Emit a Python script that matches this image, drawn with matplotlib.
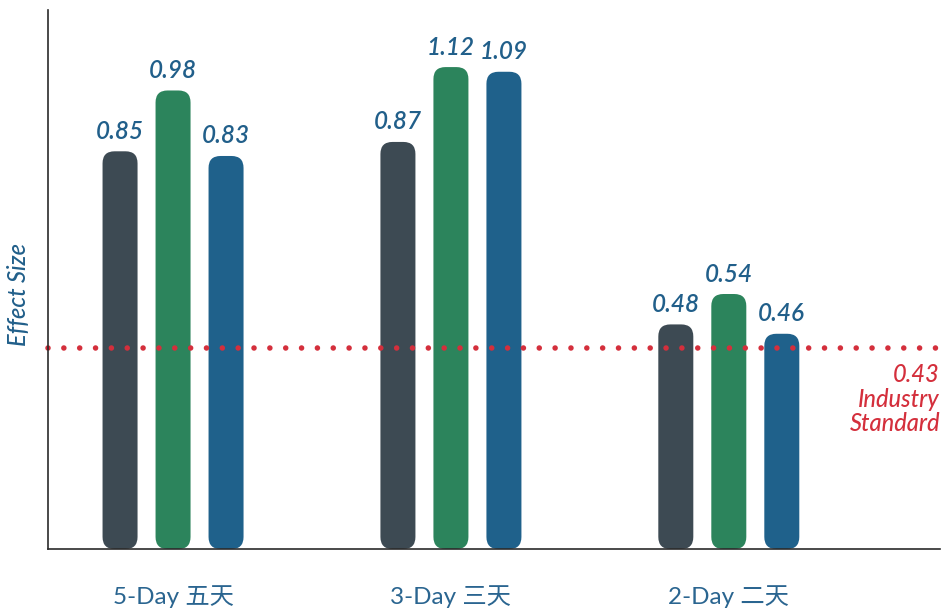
import matplotlib.pyplot as plt
from matplotlib.patches import FancyBboxPatch
from matplotlib import transforms

# data
groups = ["5-Day 五天", "3-Day 三天", "2-Day 二天"]
series_colors = ["#3d4a53", "#2c845c", "#1f618b"]
effect_labels = [[0.85, 0.98, 0.83], [0.87, 1.12, 1.09], [0.48, 0.54, 0.46]]
# heights as drawn in the picture (the tallest two are drawn a bit short)
bar_heights = [[0.85, 0.98, 0.84], [0.87, 1.03, 1.02], [0.48, 0.545, 0.46]]
industry_standard = 0.43

label_blue = "#215f8a"
red = "#d42f3c"
font_list = ["Lato", "Noto Sans CJK SC", "DejaVu Sans"]
plt.rcParams["font.family"] = font_list
plt.rcParams["lines.scale_dashes"] = False

W, H = 943, 609
fig = plt.figure(figsize=(W / 100, H / 100), dpi=100)
ax_l, ax_r, ax_t, ax_b = 48, 940, 10, 549
ax = fig.add_axes([ax_l / W, (H - ax_b) / H, (ax_r - ax_l) / W, (ax_b - ax_t) / H])

xmin, xmax = -0.45, 2.76
ymax = 1.152
ax.set_xlim(xmin, xmax)
ax.set_ylim(0, ymax)

x_per_px = (xmax - xmin) / (ax_r - ax_l)
y_per_px = ymax / (ax_b - ax_t)
offset = 53 * x_per_px
bar_w = 35 * x_per_px
radius = 12 * x_per_px

for gi, (heights, labels) in enumerate(zip(bar_heights, effect_labels)):
    for si, (h, lab) in enumerate(zip(heights, labels)):
        xc = gi + (si - 1) * offset
        patch = FancyBboxPatch(
            (xc - bar_w / 2, 0), bar_w, h,
            boxstyle=f"round,pad=0,rounding_size={radius}",
            mutation_aspect=y_per_px / x_per_px,
            facecolor=series_colors[si], edgecolor="none", zorder=2,
        )
        ax.add_patch(patch)
        ax.annotate(
            f"{lab:.2f}", xy=(xc, h), xytext=(0, 9), textcoords="offset points",
            ha="center", va="baseline", fontsize=17.5, style="italic",
            weight="semibold", color=label_blue, zorder=4,
        )

ax.plot([xmin, xmax], [industry_standard] * 2, color=red, linewidth=4.0,
        linestyle=(0, (0.01, 11.4)), dash_capstyle="round", zorder=3,
        clip_on=False)
blend = transforms.blended_transform_factory(ax.transAxes, ax.transData)
ax.annotate(
    f"{industry_standard:.2f}\nIndustry\nStandard", xy=(1.0, industry_standard),
    xycoords=blend, xytext=(0, -11), textcoords="offset points",
    ha="right", va="top", fontsize=17, style="italic", weight="medium",
    color=red, linespacing=1.08, multialignment="right",
)

ax.set_xticks(range(len(groups)))
ax.set_xticklabels(groups, fontsize=17.5, color="#2a6590")
ax.tick_params(axis="x", length=0, pad=26)
ax.set_yticks([])
ax.set_ylabel("Effect Size", fontsize=17, style="italic", color=label_blue,
              weight="medium")
ax.yaxis.set_label_coords((30 - ax_l) / (ax_r - ax_l), (ax_b - 295) / (ax_b - ax_t))

for side in ["top", "right"]:
    ax.spines[side].set_visible(False)
for side in ["left", "bottom"]:
    ax.spines[side].set_color("#2b2b2b")
    ax.spines[side].set_linewidth(1.2)
    ax.spines[side].set_zorder(5)

fig.savefig("out.png", dpi=100)
